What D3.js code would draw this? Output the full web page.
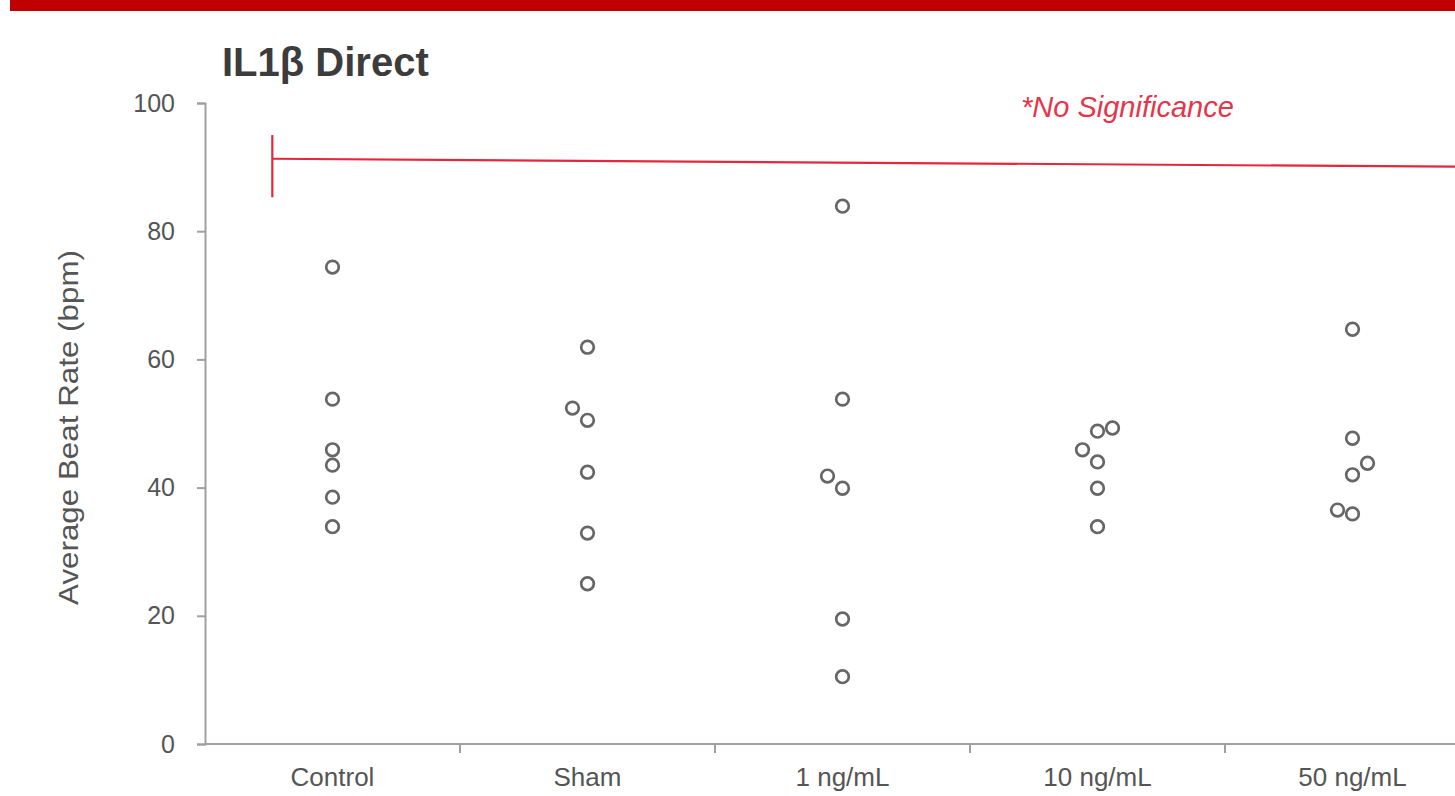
<!DOCTYPE html>
<html>
<head>
<meta charset="utf-8">
<script src="https://cdn.jsdelivr.net/npm/d3@7"></script>
<style>
  html, body { margin: 0; padding: 0; background: #fff; }
  svg { display: block; }
  text { font-family: "Liberation Sans", Arial, sans-serif; }
</style>
</head>
<body>
<svg id="chart" width="1455" height="796"></svg>
<script>
// Groups along the x axis
const groups = ["Control", "Sham", "1 ng/mL", "10 ng/mL", "50 ng/mL"];

// Average beat rate (bpm) of each well, per group
const control = [74.4, 53.8, 45.9, 43.5, 38.5, 33.9];
const sham    = [61.9, 52.4, 50.5, 42.4, 32.9, 25.0];
const ng1     = [83.9, 53.8, 41.8, 39.9, 19.5, 10.5];
const ng10    = [49.3, 48.8, 45.9, 44.0, 39.9, 33.9];
const ng50    = [64.7, 47.7, 43.8, 42.0, 36.5, 35.9];
const seriesByGroup = [control, sham, ng1, ng10, ng50];

const yTicks = [0, 20, 40, 60, 80, 100];

// Comparison bracket (no significant difference across groups)
const bracketLevel = [91.3, 89.9];   // value at left end, value at right end
const bracketCap = [95.0, 85.3];     // extent of the left end cap
const bracketNote = "*No Significance";

const titleText = "IL1\u03B2 Direct";
const yLabel = "Average Beat Rate (bpm)";

const svg = d3.select("#chart");
const W = 1455, H = 796;

// Top banner
svg.append("rect").attr("x", 10).attr("y", 0).attr("width", W - 10).attr("height", 11)
  .attr("fill", "#c00000");

const plot = { left: 205, top: 103, bottom: 744 };
const step = 255;

const x = d3.scaleBand().domain(groups)
  .range([plot.left, plot.left + step * groups.length]).paddingInner(0).paddingOuter(0);
const y = d3.scaleLinear().domain([0, 100]).range([plot.bottom, plot.top]);
// continuous position in group-index units (0 = first group centre)
const xi = d3.scaleLinear().domain([0, 1]).range([x(groups[0]) + x.bandwidth() / 2, x(groups[1]) + x.bandwidth() / 2]);

const axisColor = "#a0a0a0";
const labelColor = "#555";

// Y axis
const yAxis = svg.append("g").attr("transform", `translate(${plot.left},0)`)
  .call(d3.axisLeft(y).tickValues(yTicks).tickSize(8).tickPadding(22).tickFormat(d3.format("d")));
yAxis.select(".domain").attr("stroke", axisColor).attr("stroke-width", 2);
yAxis.selectAll(".tick line").attr("stroke", axisColor).attr("stroke-width", 2);
yAxis.selectAll(".tick text").attr("fill", labelColor).attr("font-size", 25);

// X axis: baseline, boundary ticks, centred group labels
const xg = svg.append("g");
xg.append("line").attr("x1", plot.left).attr("x2", W).attr("y1", y(0)).attr("y2", y(0))
  .attr("stroke", axisColor).attr("stroke-width", 2);
xg.selectAll("line.bound").data(groups.slice(1)).join("line").attr("class", "bound")
  .attr("x1", d => x(d)).attr("x2", d => x(d))
  .attr("y1", y(0)).attr("y2", y(0) + 9)
  .attr("stroke", axisColor).attr("stroke-width", 2);
xg.selectAll("text").data(groups).join("text")
  .attr("x", d => x(d) + x.bandwidth() / 2).attr("y", y(0) + 42)
  .attr("text-anchor", "middle").attr("fill", labelColor).attr("font-size", 26)
  .text(d => d);

// Y axis title
svg.append("text").attr("transform", `translate(78,${(y(0) + y(100)) / 2 + 4}) rotate(-90) scale(1.12,1)`)
  .attr("text-anchor", "middle").attr("fill", labelColor).attr("font-size", 28).text(yLabel);

// Chart title
svg.append("text").attr("x", 222).attr("y", 76).attr("font-size", 40).attr("font-weight", "bold")
  .attr("fill", "#3c3c3c").text(titleText);

// Points: within each group, ascending values that sit too close to the
// previous centred point are shifted sideways, alternating left then right.
const dodge = 15, minGap = 14;
const points = [];
seriesByGroup.forEach((vals, gi) => {
  const sorted = vals.slice().sort((a, b) => a - b);
  let lastCentre = null, side = -1;
  sorted.forEach(v => {
    let off = 0;
    if (lastCentre !== null && Math.abs(y(v) - y(lastCentre)) < minGap) {
      off = side * dodge; side = -side;
    } else {
      lastCentre = v;
    }
    points.push({ g: groups[gi], v, off });
  });
});

svg.append("g").selectAll("circle").data(points).join("circle")
  .attr("cx", d => x(d.g) + x.bandwidth() / 2 + d.off)
  .attr("cy", d => y(d.v))
  .attr("r", 6.3)
  .attr("fill", "none").attr("stroke", "#666").attr("stroke-width", 2.7);

// Bracket
const bracketColor = "#e4273c";
const bx0 = xi(-0.236), bx1 = xi(5);
svg.append("line").attr("x1", bx0).attr("x2", bx1)
  .attr("y1", y(bracketLevel[0])).attr("y2", y(bracketLevel[1]))
  .attr("stroke", bracketColor).attr("stroke-width", 2.2);
svg.append("line").attr("x1", bx0).attr("x2", bx0)
  .attr("y1", y(bracketCap[0])).attr("y2", y(bracketCap[1]))
  .attr("stroke", bracketColor).attr("stroke-width", 2.2);
svg.append("text").attr("x", 1021).attr("y", 117).attr("font-size", 29).attr("font-style", "italic")
  .attr("fill", "#e6354a").text(bracketNote);
</script>
</body>
</html>
